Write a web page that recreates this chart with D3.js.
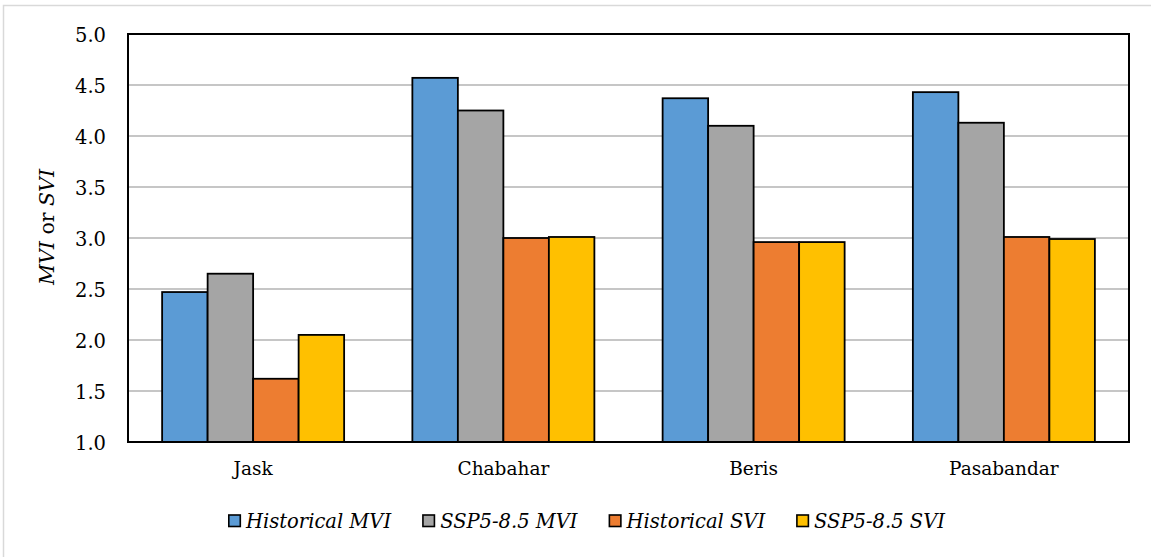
<!DOCTYPE html>
<html>
<head>
<meta charset="utf-8">
<script src="https://cdn.jsdelivr.net/npm/d3@7"></script>
<style>
  html, body { margin: 0; padding: 0; background: #fff; }
  svg { display: block; }
</style>
</head>
<body>
<svg id="chart" width="1151" height="557"></svg>
<script>
// Stations and series
const sites = ["Jask", "Chabahar", "Beris", "Pasabandar"];
const seriesNames = ["Historical MVI", "SSP5-8.5 MVI", "Historical SVI", "SSP5-8.5 SVI"];
const seriesColors = ["#5B9BD5", "#A5A5A5", "#ED7D31", "#FFC000"];

// Index values per station, in series order
const historicalMVI = [2.47, 4.57, 4.37, 4.43];
const ssp585MVI     = [2.65, 4.25, 4.10, 4.13];
const historicalSVI = [1.62, 3.00, 2.96, 3.01];
const ssp585SVI     = [2.05, 3.01, 2.96, 2.99];

const yTicks = [1.0, 1.5, 2.0, 2.5, 3.0, 3.5, 4.0, 4.5, 5.0];

const seriesValues = [historicalMVI, ssp585MVI, historicalSVI, ssp585SVI];

const FONT = "DejaVu Serif";

const svg = d3.select("#chart");
const plot = { left: 128, right: 1129, top: 34, bottom: 442 };

// outer chart-area border (light gray)
svg.append("rect")
  .attr("x", 3.5).attr("y", 5.5)
  .attr("width", 1200).attr("height", 600)
  .attr("fill", "#fff").attr("stroke", "#d9d9d9").attr("stroke-width", 1.5);

const y = d3.scaleLinear().domain([1, 5]).range([plot.bottom, plot.top]);

const x0 = d3.scaleBand().domain(sites)
  .range([plot.left, plot.right])
  .paddingInner(0.2727).paddingOuter(0.13635);

const x1 = d3.scaleBand().domain(seriesNames)
  .range([0, x0.bandwidth()]).padding(0);

// horizontal gridlines
svg.append("g").selectAll("line")
  .data(yTicks.filter(t => t > 1 && t < 5))
  .join("line")
  .attr("x1", plot.left).attr("x2", plot.right)
  .attr("y1", d => y(d)).attr("y2", d => y(d))
  .attr("stroke", "#c6c6c6").attr("stroke-width", 2);

// bars
const groups = svg.append("g").selectAll("g")
  .data(sites)
  .join("g")
  .attr("transform", d => `translate(${x0(d)},0)`);

groups.selectAll("rect")
  .data((site, i) => seriesNames.map((s, k) => ({ series: s, k, value: seriesValues[k][i] })))
  .join("rect")
  .attr("x", d => x1(d.series))
  .attr("y", d => y(d.value))
  .attr("width", x1.bandwidth())
  .attr("height", d => y(1) - y(d.value))
  .attr("fill", d => seriesColors[d.k])
  .attr("stroke", "#000")
  .attr("stroke-width", 1.8);

// plot frame
svg.append("rect")
  .attr("x", plot.left).attr("y", plot.top)
  .attr("width", plot.right - plot.left)
  .attr("height", plot.bottom - plot.top)
  .attr("fill", "none").attr("stroke", "#000").attr("stroke-width", 2);

// y axis tick labels
const yAxis = d3.axisLeft(y).tickValues(yTicks).tickFormat(d3.format(".1f"))
  .tickSize(0).tickPadding(22);
const gy = svg.append("g").attr("transform", `translate(${plot.left},0)`).call(yAxis);
gy.select(".domain").remove();
gy.attr("font-family", FONT).attr("font-size", 19.5);
gy.selectAll("text").attr("fill", "#000").attr("dy", "0.36em");

// x axis category labels
const xAxis = d3.axisBottom(x0).tickSize(0).tickPadding(19);
const gx = svg.append("g").attr("transform", `translate(0,${plot.bottom})`).call(xAxis);
gx.select(".domain").remove();
gx.attr("font-family", FONT).attr("font-size", 18.5);
gx.selectAll("text").attr("fill", "#000").attr("dy", "0.76em");

// y axis title
const title = svg.append("text")
  .attr("transform", `translate(54,${(plot.top + plot.bottom) / 2 - 11}) rotate(-90)`)
  .attr("text-anchor", "middle")
  .attr("font-family", FONT)
  .attr("font-size", 20.5).attr("fill", "#000");
title.append("tspan").attr("font-style", "italic").text("MVI");
title.append("tspan").text(" or ");
title.append("tspan").attr("font-style", "italic").text("SVI");

// legend
const legend = svg.append("g");
let lx = 228;
const ly = 528;
seriesNames.forEach((name, k) => {
  legend.append("rect")
    .attr("x", lx + 0.8).attr("y", ly - 13)
    .attr("width", 11.5).attr("height", 11.5)
    .attr("fill", seriesColors[k]).attr("stroke", "#000").attr("stroke-width", 1.6);
  const t = legend.append("text")
    .attr("x", lx + 18).attr("y", ly)
    .attr("font-family", FONT)
    .attr("font-size", 19.5).attr("font-style", "italic").attr("fill", "#000")
    .text(name);
  lx = lx + 18 + t.node().getComputedTextLength() + 31;
});
</script>
</body>
</html>
